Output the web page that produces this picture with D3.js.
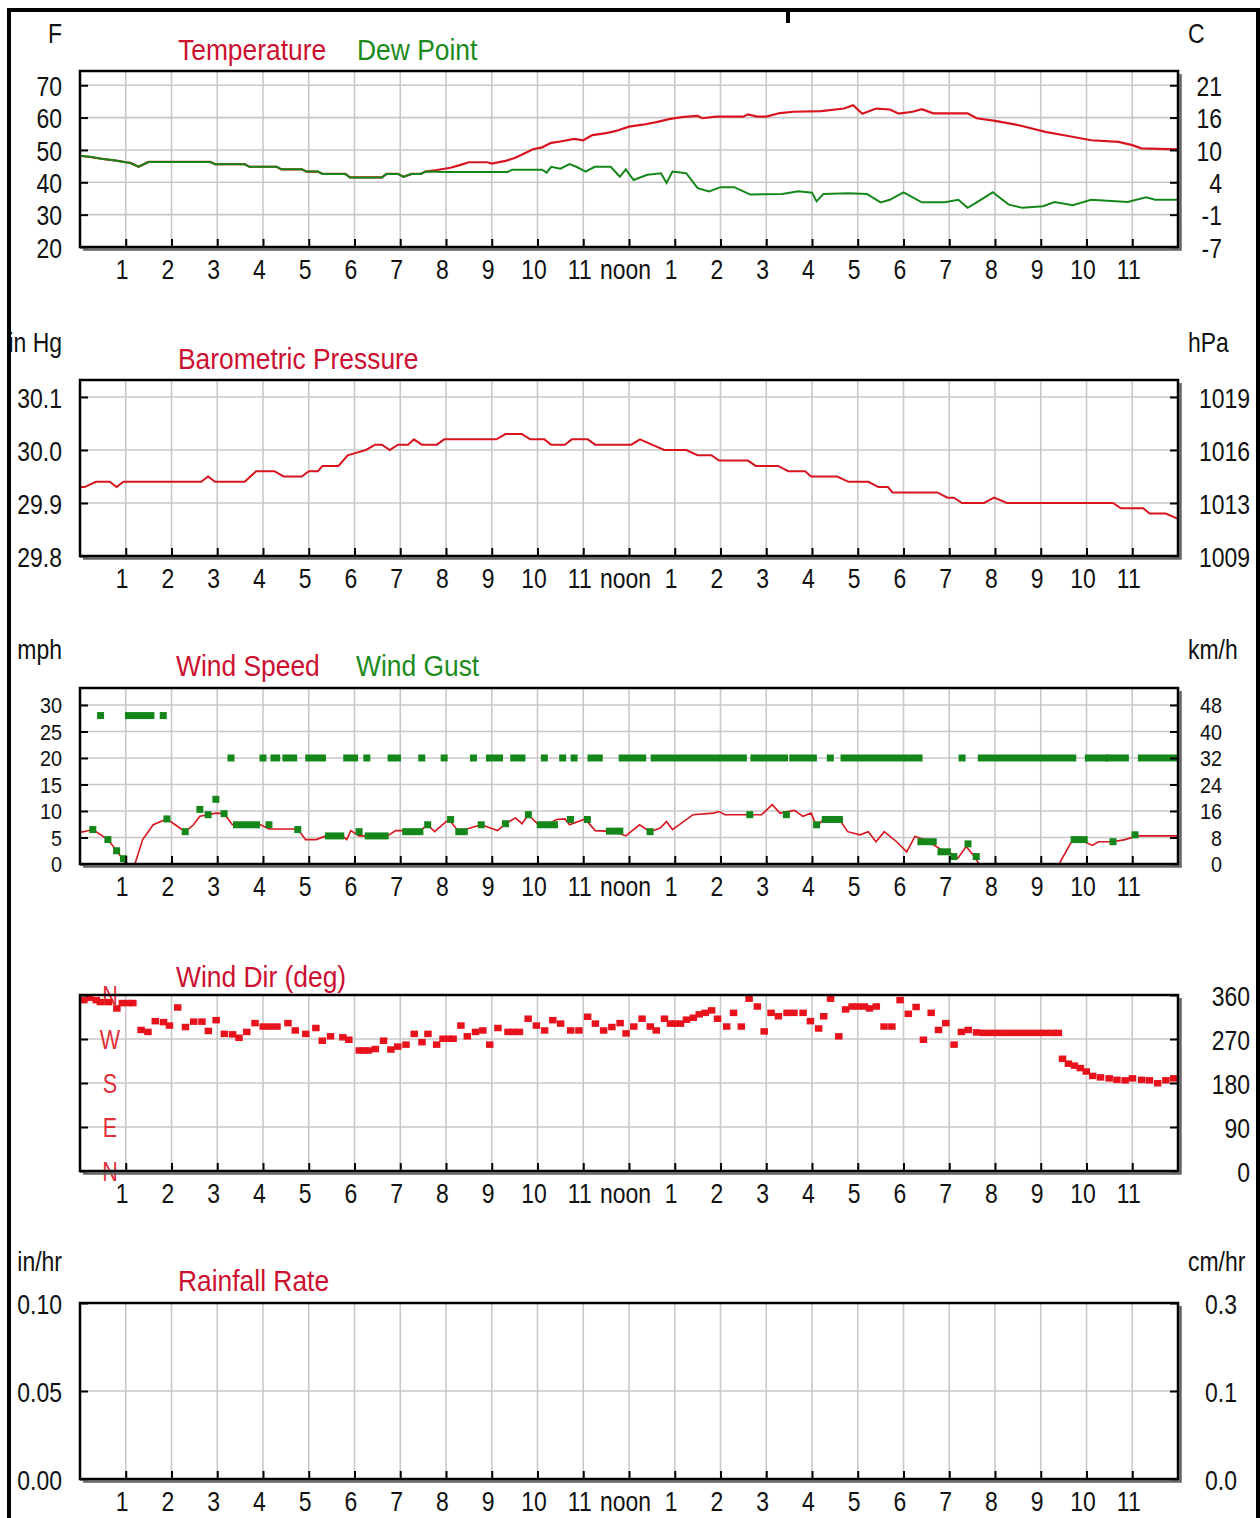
<!DOCTYPE html>
<html>
<head>
<meta charset="utf-8">
<script src="https://cdnjs.cloudflare.com/ajax/libs/d3/7.8.5/d3.min.js"></script>
<style>
  body { margin: 0; background: #fff; }
  svg { display: block; font-family: "Liberation Sans", Arial, sans-serif; }
</style>
</head>
<body>
<script>
// hour of day (0-24) and reading
const temperature = [[0,48.2],[0.25,47.8],[0.5,47.2],[0.75,46.8],[1.0,46.2],[1.1,46],[1.28,44.8],[1.5,46.3],[2.85,46.3],[2.95,45.6],[3.6,45.6],[3.7,44.8],[4.3,44.8],[4.4,44],[4.85,44],[4.95,43.3],[5.2,43.3],[5.3,42.6],[5.8,42.6],[5.9,41.5],[6.6,41.5],[6.7,42.6],[6.95,42.6],[7.07,41.7],[7.25,42.6],[7.45,42.6],[7.55,43.3],
  [7.8,43.8],[8.1,44.5],[8.3,45.3],[8.5,46.2],[8.9,46.2],[9.0,45.8],[9.3,46.6],[9.5,47.5],[9.7,48.8],[9.9,50.2],[10.1,50.8],[10.3,52.2],[10.5,52.6],[10.8,53.4],[11.0,53],[11.2,54.6],[11.5,55.2],[11.7,55.8],[12.0,57.2],[12.3,57.8],[12.6,58.6],[12.9,59.6],[13.2,60.2],[13.5,60.5],[13.6,59.8],[13.9,60.3],[14.5,60.3],[14.6,61],[14.8,60.3],[15.0,60.3],[15.3,61.4],[15.6,61.8],[16.2,62],[16.7,62.8],[16.9,63.8],[17.1,61.2],[17.4,62.8],[17.7,62.5],[17.9,61.2],[18.2,61.8],[18.4,62.6],[18.65,61.3],[19.4,61.3],[19.6,59.8],[20.0,59],[20.4,58],[20.7,57],[21.1,55.6],[21.6,54.3],[22.1,53],[22.7,52.5],[23.0,51.5],[23.2,50.5],[24,50.2]];

const dewPoint = [[0,48.2],[0.25,47.8],[0.5,47.2],[0.75,46.8],[1.0,46.2],[1.1,46],[1.28,44.8],[1.5,46.3],[2.85,46.3],[2.95,45.6],[3.6,45.6],[3.7,44.8],[4.3,44.8],[4.4,44],[4.85,44],[4.95,43.3],[5.2,43.3],[5.3,42.6],[5.8,42.6],[5.9,41.5],[6.6,41.5],[6.7,42.6],[6.95,42.6],[7.07,41.7],[7.25,42.6],[7.45,42.6],[7.55,43.3],[8.0,43.2],[9.35,43.2],[9.45,43.9],[10.1,43.9],[10.2,43],[10.3,44.8],[10.5,44.2],[10.7,45.6],[10.85,44.8],[11.05,43.3],[11.25,44.8],[11.6,44.8],[11.8,41.7],[11.93,44],[12.1,40.7],[12.4,42.3],[12.7,42.8],[12.82,39.8],[12.95,43.3],[13.25,42.8],[13.5,38.2],[13.75,37.2],[14.0,38.5],[14.3,38.5],[14.5,37.2],[14.65,36.2],[15.35,36.4],[15.7,37.2],[16.0,36.8],[16.1,34.1],[16.25,36.4],[16.8,36.6],[17.2,36.4],[17.5,33.8],[17.7,34.6],[18.0,36.9],[18.4,33.8],[18.9,33.8],[19.2,34.6],[19.4,32.1],[19.6,33.8],[19.95,36.9],[20.3,33.1],[20.6,32.1],[21.05,32.6],[21.3,33.9],[21.7,32.9],[22.1,34.6],[22.9,33.9],[23.3,35.4],[23.5,34.6],[24,34.6]];

const pressure = [[0,29.93],[0.1,29.93],[0.35,29.94],[0.65,29.94],[0.8,29.93],[0.95,29.94],[2.65,29.94],[2.8,29.95],[2.95,29.94],[3.6,29.94],[3.85,29.96],[4.25,29.96],[4.45,29.95],[4.85,29.95],[5.0,29.96],[5.2,29.96],[5.3,29.97],[5.65,29.97],[5.85,29.99],[6.05,29.995],[6.25,30.0],[6.45,30.01],[6.6,30.01],[6.77,30.0],[6.95,30.01],[7.17,30.01],[7.3,30.02],[7.47,30.01],[7.8,30.01],[7.96,30.02],[9.1,30.02],[9.3,30.03],[9.66,30.03],[9.84,30.02],[10.15,30.02],[10.3,30.01],[10.6,30.01],[10.75,30.02],[11.1,30.02],[11.26,30.01],[12.05,30.01],[12.24,30.02],[12.5,30.01],[12.77,30.0],[13.25,30.0],[13.5,29.99],[13.8,29.99],[13.97,29.98],[14.6,29.98],[14.77,29.97],[15.26,29.97],[15.48,29.96],[15.85,29.96],[15.98,29.95],[16.55,29.95],[16.8,29.94],[17.23,29.94],[17.45,29.93],[17.66,29.93],[17.76,29.92],[18.74,29.92],[18.96,29.91],[19.1,29.91],[19.28,29.9],[19.76,29.9],[19.98,29.91],[20.26,29.9],[22.58,29.9],[22.75,29.89],[23.24,29.89],[23.38,29.88],[23.73,29.88],[24,29.87]];

const windSpeed = [[0,6],[0.08,6.1],[0.28,6.5],[0.61,4.6],[0.8,2.5],[0.92,1.1],[1.0,0],[1.2,0],[1.37,4.6],[1.6,7.4],[1.9,8.5],[2.08,7.4],[2.3,6.1],[2.48,7.4],[2.62,9],[2.8,9.3],[2.97,9.6],[3.15,9.5],[3.33,7.4],[3.95,7.4],[4.13,6.6],[4.76,6.6],[4.93,4.6],[5.16,4.6],[5.38,5.3],[5.74,5.3],[5.83,4.6],[5.92,6.3],[6.1,5.3],[6.72,5.3],[6.9,6.3],[7.43,6.3],[7.6,7.4],[7.75,6.1],[8.06,8.4],[8.28,6.1],[8.6,7.0],[8.77,7.4],[9.13,6.3],[9.3,7.6],[9.52,8.7],[9.66,7.6],[9.8,9.3],[10.02,7.4],[10.2,7.4],[10.42,8.4],[10.6,8.5],[10.7,7.4],[11.04,8.5],[11.26,6.3],[11.7,6.1],[11.93,5.3],[12.23,7.4],[12.46,6.1],[12.68,6.8],[12.82,8.0],[12.95,6.5],[13.4,9.3],[13.85,9.6],[13.97,9.9],[14.1,9.3],[14.9,9.3],[15.13,11.2],[15.3,9.6],[15.62,10.1],[15.8,9.0],[15.98,9.6],[16.1,7.1],[16.25,8.4],[16.6,8.4],[16.78,6.1],[17.05,5.5],[17.23,6.1],[17.4,4.2],[17.58,6.1],[17.85,4.2],[18.07,2.3],[18.25,5.2],[18.47,4.6],[18.83,2.7],[19.05,2.0],[19.19,1.1],[19.37,3.3],[19.55,1.4],[19.65,0],[21.4,0],[21.7,4.6],[21.85,4.6],[22.13,3.5],[22.26,4.2],[22.58,4.2],[22.84,4.6],[23.1,5.3],[24,5.3]];

// gust readings: runs of equal value [fromHour, toHour, mph]
const gustRuns = [[0.45,0.45,28],[1.06,1.55,28],[1.82,1.82,28],
  [3.3,3.3,20],[4.0,4.0,20],[4.24,4.3,20],[4.5,4.67,20],[5.0,5.3,20],[5.83,6.0,20],[6.27,6.27,20],[6.8,6.94,20],[7.47,7.47,20],[7.96,7.96,20],[8.6,8.6,20],[8.95,9.17,20],[9.48,9.66,20],[10.15,10.15,20],[10.55,10.55,20],[10.8,10.8,20],[11.17,11.35,20],[11.85,12.3,20],[12.55,14.5,20],[14.73,15.4,20],[15.58,16.03,20],[16.4,16.4,20],[16.7,18.34,20],[19.28,19.28,20],[19.7,21.7,20],[22.04,22.4,20],[22.5,22.85,20],[23.2,23.95,20],
  [0.28,0.28,6.5],[0.61,0.61,4.6],[0.8,0.8,2.5],[0.95,0.95,1],[1.9,1.9,8.5],[2.3,2.3,6.1],[2.62,2.62,10.3],[2.8,2.8,9.3],[2.97,2.97,12.2],[3.15,3.15,9.5],[3.42,3.86,7.4],[4.13,4.13,7.4],[4.76,4.76,6.5],[5.43,5.7,5.3],[6.1,6.1,6.1],[6.3,6.67,5.3],[7.12,7.43,6.1],[7.6,7.6,7.4],[8.1,8.1,8.4],[8.28,8.4,6.1],[8.77,8.77,7.4],[9.3,9.3,7.6],[9.8,9.8,9.3],[10.06,10.37,7.4],[10.72,10.72,8.4],[11.09,11.09,8.4],[11.57,11.8,6.2],[12.46,12.46,6.1],[14.64,14.64,9.3],[15.44,15.44,9.3],[16.1,16.1,7.4],[16.29,16.6,8.4],[18.38,18.65,4.2],[18.82,18.96,2.3],[19.1,19.1,1.4],[19.41,19.41,3.8],[19.59,19.59,1.4],[21.73,21.95,4.6],[22.58,22.58,4.2],[23.06,23.06,5.5]];

const windDir = [[0.08,350],[0.2,355],[0.35,350],[0.44,346],[0.62,346],[0.8,333],[0.92,344],[1.05,344],[1.15,344],[1.33,289],[1.48,285],[1.64,307],[1.82,305],[1.95,298],[2.13,335],[2.3,295],[2.48,306],[2.66,306],[2.8,287],[2.97,309],[3.15,281],[3.33,280],[3.47,273],[3.64,285],[3.82,303],[4.0,296],[4.15,296],[4.3,296],[4.54,303],[4.7,288],[4.93,281],[5.15,293],[5.29,267],[5.47,276],[5.74,274],[5.87,269],[6.1,247],[6.2,247],[6.3,247],[6.45,250],[6.63,267],[6.79,249],[6.94,255],[7.12,259],[7.3,281],[7.47,264],[7.6,281],[7.79,259],[7.93,271],[8.05,271],[8.15,271],[8.32,298],[8.46,276],[8.64,285],[8.8,288],[8.95,259],[9.13,293],[9.35,285],[9.47,285],[9.6,285],[9.79,312],[9.97,298],[10.15,288],[10.33,309],[10.5,302],[10.72,288],[10.9,288],[11.09,316],[11.26,302],[11.44,288],[11.62,295],[11.8,303],[11.93,282],[12.1,296],[12.28,312],[12.46,296],[12.59,288],[12.77,312],[12.9,302],[13.0,302],[13.12,302],[13.25,310],[13.4,314],[13.53,321],[13.66,324],[13.8,329],[13.93,312],[14.13,296],[14.28,324],[14.45,296],[14.62,353],[14.8,337],[14.95,286],[15.1,324],[15.26,317],[15.45,324],[15.6,324],[15.8,324],[15.96,307],[16.14,292],[16.25,317],[16.4,353],[16.58,276],[16.73,331],[16.87,337],[17.0,337],[17.14,337],[17.25,333],[17.4,337],[17.57,296],[17.74,296],[17.92,350],[18.1,322],[18.27,336],[18.43,269],[18.6,324],[18.76,289],[18.92,303],[19.1,259],[19.26,285],[19.41,289],[19.59,284],[19.74,283],[19.89,283],[20.04,283],[20.19,283],[20.34,283],[20.49,283],[20.64,283],[20.79,283],[20.94,283],[21.09,283],[21.24,283],[21.38,283],[21.47,230],[21.6,220],[21.73,216],[21.86,211],[21.99,204],[22.13,195],[22.3,192],[22.49,190],[22.66,187],[22.84,186],[23.0,190],[23.2,187],[23.37,186],[23.55,180],[23.73,186],[23.9,190]];

const rainRate = [];   // no rain that day

const hourTicks = d3.range(1, 24);
const tempTicks = [20, 30, 40, 50, 60, 70];
const pressTicks = [29.8, 29.9, 30.0, 30.1];
const windTicks = [0, 5, 10, 15, 20, 25, 30];
const dirTicks = [0, 90, 180, 270, 360];
const dirLetters = ["N", "E", "S", "W", "N"];
const rainTicks = [0, 0.05, 0.10];

(function() {
    const width = 1260, height = 1518;
    const left = 80, right = 1178, panelH = 176;
    const RED = "#d8141e", GREEN = "#15871a", TITLE_RED = "#cc1030", TITLE_GREEN = "#1c8a1c";

    const svg = d3.select("body").append("svg")
        .attr("width", width)
        .attr("height", height);

    svg.append("rect").attr("width", width).attr("height", height).attr("fill", "#fff");

    const x = d3.scaleLinear().domain([0, 24]).range([left, right]);

    // squeeze text horizontally like the narrow bitmap font of the original
    const squeeze = function(sel, k) {
        sel.each(function() {
            const t = d3.select(this);
            const tx = +t.attr("x") || 0;
            t.attr("x", 0).attr("transform", `translate(${tx},0) scale(${k},1)`);
        });
    };

    const label = function(g, str, px, py, opts) {
        opts = opts || {};
        return g.append("text")
            .attr("transform", `translate(${px},${py}) scale(${opts.k || 0.82},1)`)
            .attr("text-anchor", opts.anchor || "start")
            .attr("fill", opts.color || "#111")
            .style("font-size", (opts.size || 28) + "px")
            .text(str);
    };

    // plain hyphen for negative numbers, as on the original
    const fmt = spec => d => d3.format(spec)(d).replace("\u2212", "-");

    const styleAxis = function(g, size) {
        g.attr("font-size", null).attr("font-family", null);
        g.select(".domain").remove();
        g.selectAll(".tick line").attr("stroke", "#000").attr("stroke-width", 2);
        g.selectAll(".tick text").attr("fill", "#111").style("font-size", size + "px");
    };

    const panel = function(cfg) {
        const top = cfg.top, bottom = top + panelH;
        const g = svg.append("g");
        const y = d3.scaleLinear().domain(cfg.domain).range([bottom, top]);
        const ySize = cfg.ySize || 28, yK = cfg.yK || 0.82;

        // grid
        g.append("g").selectAll("line").data(hourTicks).enter().append("line")
            .attr("x1", d => x(d)).attr("x2", d => x(d))
            .attr("y1", top).attr("y2", bottom)
            .attr("stroke", "#c8c8c8").attr("stroke-width", 1.6);
        g.append("g").selectAll("line").data(cfg.ticks.filter(t => y(t) > top + 1 && y(t) < bottom - 1)).enter().append("line")
            .attr("x1", left).attr("x2", right)
            .attr("y1", d => y(d)).attr("y2", d => y(d))
            .attr("stroke", "#c8c8c8").attr("stroke-width", 1.6);

        // titles and units
        cfg.titles.forEach(t => label(g, t.text, t.x, top - cfg.titleGap, {color: t.color, size: 30, k: 0.88}));
        if (cfg.leftUnit) label(g, cfg.leftUnit, 62, top - cfg.unitGap, {anchor: "end"});
        if (cfg.rightUnit) label(g, cfg.rightUnit, 1188, top - cfg.unitGap);

        const data = g.append("g");
        cfg.draw(data, y);

        // axes
        const ax = g.append("g")
            .attr("transform", `translate(${left},0)`)
            .call(d3.axisLeft(y).tickValues(cfg.ticks).tickSize(-8).tickPadding(18)
                .tickFormat(cfg.leftFormat || ""));
        styleAxis(ax, ySize);
        ax.selectAll(".tick text").attr("dy", "0.36em");
        squeeze(ax.selectAll(".tick text"), yK);

        const yR = d3.scaleLinear().domain(cfg.domain.map(cfg.conv)).range([bottom, top]);
        const axR = g.append("g")
            .attr("transform", `translate(${right},0)`)
            .call(d3.axisRight(yR).tickValues(cfg.ticks.map(cfg.conv)).tickSize(-8).tickPadding(cfg.rightAnchor - right)
                .tickFormat(fmt(cfg.rightFormat)));
        styleAxis(axR, ySize);
        axR.selectAll(".tick text").attr("dy", "0.36em").attr("text-anchor", "end");
        squeeze(axR.selectAll(".tick text"), yK);

        const axB = g.append("g")
            .attr("transform", `translate(0,${bottom})`)
            .call(d3.axisBottom(x).tickValues(hourTicks).tickSize(-8).tickPadding(12)
                .tickFormat(h => h === 12 ? "noon" : (h > 12 ? h - 12 : h)));
        styleAxis(axB, 28);
        axB.selectAll(".tick text").attr("x", -4);
        squeeze(axB.selectAll(".tick text"), 0.82);

        // frame with a little drop shadow
        g.append("path")
            .attr("d", `M${right + 2.5},${top + 3}V${bottom + 2.5}H${left + 3}`)
            .attr("fill", "none").attr("stroke", "#666").attr("stroke-width", 2.5);
        g.append("rect")
            .attr("x", left).attr("y", top)
            .attr("width", right - left).attr("height", panelH)
            .attr("fill", "none").attr("stroke", "#000").attr("stroke-width", 2.5);
    };

    const lineOf = y => d3.line().x(d => x(d[0])).y(d => y(d[1]));

    // Temperature / Dew Point
    panel({
        top: 71, domain: [20, 74.4], ticks: tempTicks,
        leftFormat: d3.format("d"), conv: f => (f - 32) / 1.8, rightFormat: ".0f", rightAnchor: 1222,
        leftUnit: "F", rightUnit: "C", unitGap: 28, titleGap: 11,
        titles: [{text: "Temperature", x: 178, color: TITLE_RED}, {text: "Dew Point", x: 357, color: TITLE_GREEN}],
        draw: function(g, y) {
            g.append("path").datum(temperature).attr("d", lineOf(y))
                .attr("fill", "none").attr("stroke", RED).attr("stroke-width", 2.2);
            g.append("path").datum(dewPoint).attr("d", lineOf(y))
                .attr("fill", "none").attr("stroke", GREEN).attr("stroke-width", 2);
        }
    });

    // Barometric Pressure
    panel({
        top: 380, domain: [29.8, 30.132], ticks: pressTicks,
        leftFormat: d3.format(".1f"), conv: p => p * 33.8639, rightFormat: ".0f", rightAnchor: 1250,
        leftUnit: "in Hg", rightUnit: "hPa", unitGap: 28, titleGap: 11,
        titles: [{text: "Barometric Pressure", x: 178, color: TITLE_RED}],
        draw: function(g, y) {
            g.append("path").datum(pressure).attr("d", lineOf(y))
                .attr("fill", "none").attr("stroke", RED).attr("stroke-width", 2);
        }
    });

    // Wind Speed / Wind Gust
    panel({
        top: 688, domain: [0, 33.2], ticks: windTicks, ySize: 22, yK: 0.9,
        leftFormat: d3.format("d"), conv: v => v * 1.609, rightFormat: ".0f", rightAnchor: 1222,
        leftUnit: "mph", rightUnit: "km/h", unitGap: 29, titleGap: 12,
        titles: [{text: "Wind Speed", x: 176, color: TITLE_RED}, {text: "Wind Gust", x: 356, color: TITLE_GREEN}],
        draw: function(g, y) {
            g.append("path").datum(windSpeed).attr("d", lineOf(y))
                .attr("fill", "none").attr("stroke", RED).attr("stroke-width", 1.6);
            g.selectAll(".gust").data(gustRuns).enter().append("rect")
                .attr("class", "gust")
                .attr("x", d => x(d[0]) - 3.5)
                .attr("width", d => x(d[1]) - x(d[0]) + 7)
                .attr("y", d => y(d[2]) - 3.5)
                .attr("height", 7)
                .attr("fill", GREEN);
        }
    });

    // Wind Direction
    panel({
        top: 995, domain: [0, 360], ticks: dirTicks,
        leftFormat: null, conv: d => d, rightFormat: "d", rightAnchor: 1250,
        unitGap: 28, titleGap: 8,
        titles: [{text: "Wind Dir (deg)", x: 176, color: TITLE_RED}],
        draw: function(g, y) {
            g.selectAll(".dir").data(dirTicks).enter().append("text")
                .attr("transform", d => `translate(110,${y(d)}) scale(0.8,1)`)
                .attr("dy", "0.36em")
                .attr("text-anchor", "middle")
                .attr("fill", "#e0303a")
                .style("font-size", "27px")
                .text((d, i) => dirLetters[i]);
            g.selectAll(".wd").data(windDir).enter().append("rect")
                .attr("class", "wd")
                .attr("x", d => x(d[0]) - 3.5)
                .attr("y", d => y(d[1]) - 3)
                .attr("width", 7.5).attr("height", 6.5)
                .attr("fill", "#e8121c");
        }
    });

    // Rainfall Rate
    panel({
        top: 1303, domain: [0, 0.1], ticks: rainTicks,
        leftFormat: d3.format(".2f"), conv: r => r * 2.54, rightFormat: ".1f", rightAnchor: 1237,
        leftUnit: "in/hr", rightUnit: "cm/hr", unitGap: 32, titleGap: 12,
        titles: [{text: "Rainfall Rate", x: 178, color: TITLE_RED}],
        draw: function(g, y) {
            g.append("path").datum(rainRate).attr("d", lineOf(y))
                .attr("fill", "none").attr("stroke", RED).attr("stroke-width", 2);
        }
    });

    // outer frame
    svg.append("rect")
        .attr("x", 9).attr("y", 10)
        .attr("width", 1249).attr("height", 1540)
        .attr("fill", "none").attr("stroke", "#000").attr("stroke-width", 4);
    svg.append("line")
        .attr("x1", 788).attr("x2", 788).attr("y1", 10).attr("y2", 23)
        .attr("stroke", "#000").attr("stroke-width", 4);
})();
</script>
</body>
</html>
